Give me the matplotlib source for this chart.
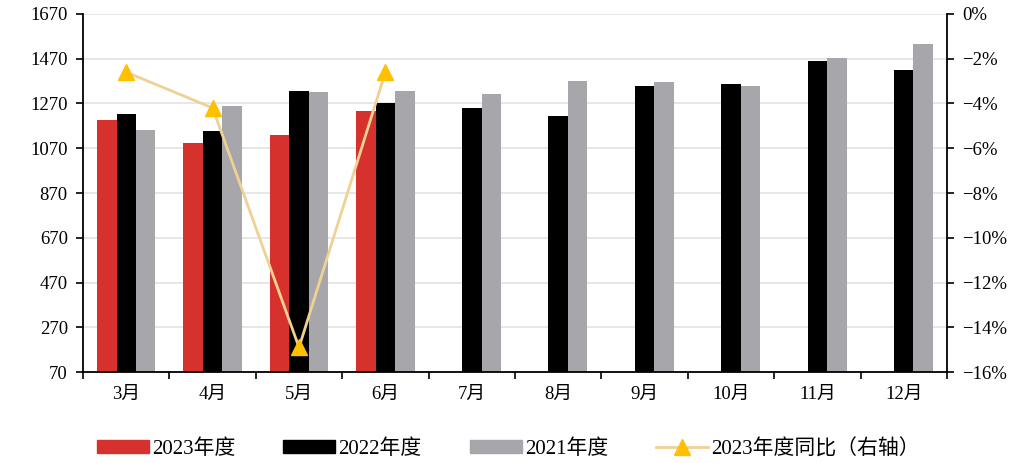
import matplotlib
matplotlib.use("Agg")
import matplotlib.pyplot as plt
import numpy as np
from matplotlib.lines import Line2D
from matplotlib.patches import Patch

plt.rcParams['font.family'] = ['Liberation Serif', 'Noto Sans CJK SC', 'DejaVu Sans']
plt.rcParams['axes.unicode_minus'] = True

months = ["3月", "4月", "5月", "6月", "7月", "8月", "9月", "10月", "11月", "12月"]
sales_2023 = [1197, 1093, 1129, 1237]
sales_2022 = [1224, 1147, 1327, 1271, 1248, 1212, 1349, 1356, 1460, 1420]
sales_2021 = [1153, 1260, 1321, 1327, 1313, 1371, 1366, 1349, 1473, 1537]
yoy_2023 = [-2.6, -4.2, -14.9, -2.6]

left_ticks = [70, 270, 470, 670, 870, 1070, 1270, 1470, 1670]
right_ticks = [0, -2, -4, -6, -8, -10, -12, -14, -16]

c_red = "#D7312E"
c_black = "#000000"
c_gray = "#A7A7AB"
c_line = "#EFD193"
c_marker = "#FFC000"

fig = plt.figure(figsize=(10.33, 4.63), dpi=100)
ax = fig.add_axes([0.0804, 0.1965, 0.8363, 0.7733])

x = np.arange(len(months))
w = 0.225
ax.bar(x[:len(sales_2023)] - w, sales_2023, width=w, color=c_red, zorder=2)
ax.bar(x, sales_2022, width=w, color=c_black, zorder=2)
ax.bar(x + w, sales_2021, width=w, color=c_gray, zorder=2)

ax.set_ylim(70, 1670)
ax.set_xlim(-0.5, len(months) - 0.5)
ax.set_yticks(left_ticks)
ax.set_yticklabels([str(v) for v in left_ticks])
ax.grid(axis='y', color="#E3E3E3", linewidth=1.2, zorder=0)
ax.set_axisbelow(True)

ax.set_xticks(np.arange(len(months) + 1) - 0.5)
ax.set_xticklabels([])
ax.set_xticks(x, minor=True)
ax.set_xticklabels(months, minor=True)
ax.tick_params(axis='x', which='major', direction='out', length=5, width=1.2, color='black')
ax.tick_params(axis='x', which='minor', length=0, pad=10, labelsize=13.5)
ax.tick_params(axis='y', direction='out', length=5, width=1.2, labelsize=13.5, pad=6)

for s in ['top', 'right']:
    ax.spines[s].set_visible(False)
for s in ['left', 'bottom']:
    ax.spines[s].set_linewidth(1.3)
    ax.spines[s].set_color('black')

ax2 = ax.twinx()
ax2.plot(x[:len(yoy_2023)], yoy_2023, color=c_line, linewidth=2,
         marker='^', markersize=11, markerfacecolor=c_marker,
         markeredgecolor=c_marker, zorder=5)
ax2.set_ylim(-16, 0)
ax2.set_yticks(right_ticks)
ax2.set_yticklabels([f"{v}%".replace("-", "\u2212") for v in right_ticks])
ax2.tick_params(axis='y', direction='out', length=5, width=1.2, labelsize=13.5, pad=6)
for s in ['top', 'left', 'bottom']:
    ax2.spines[s].set_visible(False)
ax2.spines['right'].set_linewidth(1.3)
ax2.spines['right'].set_color('black')

handles = [
    Patch(color=c_red),
    Patch(color=c_black),
    Patch(color=c_gray),
    Line2D([0], [0], color=c_line, linewidth=2, marker='^', markersize=11,
           markerfacecolor=c_marker, markeredgecolor=c_marker),
]
labels = ["2023年度", "2022年度", "2021年度", "2023年度同比（右轴）"]
fig.legend(handles, labels, loc='center', bbox_to_anchor=(0.492, 0.030), ncol=4,
           frameon=False, fontsize=15, handlelength=2.5, handleheight=0.6,
           handletextpad=0.15, columnspacing=2.3)

fig.savefig("out.png", dpi=100)
